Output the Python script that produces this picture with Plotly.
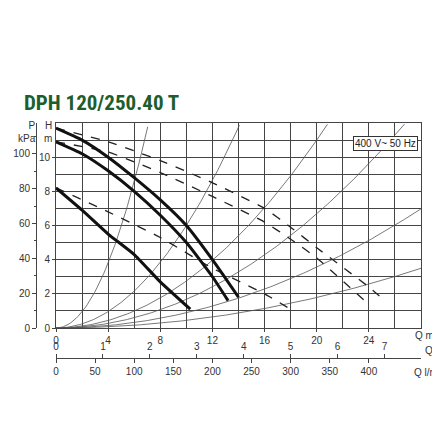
import plotly.graph_objects as go
import numpy as np

# pump curves (Q m3/h, H m)
s1_q=[0,2,4,6,8,10,12,14]; s1_h=[11.7,11.0,10.0,8.8,7.5,6.0,4.0,1.8]
s2_q=[0,2,4,6,8,10,12,13.2]; s2_h=[10.9,10.2,9.2,8.0,6.6,5.0,3.0,1.6]
s3_q=[0,2,4,6,8,10.3]; s3_h=[8.2,6.9,5.5,4.3,2.7,1.1]
d1_q=[0,4,8,12,16,18,20,24,25]; d1_h=[11.7,10.9,9.8,8.5,7.0,5.9,4.7,2.4,1.75]
d2_q=[0,4,8,12,16,18,20,23.6]; d2_h=[10.9,10.3,9.1,7.7,6.2,5.2,4.1,1.65]
d3_q=[0,4,8,12,16,18.2]; d3_h=[8.2,6.8,5.3,3.5,2.0,1.0]
sys_k=[0.238,0.060,0.0275,0.0167,0.0089,0.00446]

fig=go.Figure()
for k in sys_k:
    q=np.linspace(0,28,200); h=k*q**2
    m=h<=12
    fig.add_trace(go.Scatter(x=q[m],y=h[m],mode='lines',line=dict(color='#555',width=0.8)))
for q,h in [(d1_q,d1_h),(d2_q,d2_h),(d3_q,d3_h)]:
    fig.add_trace(go.Scatter(x=q,y=h,mode='lines',line=dict(color='#222',width=1.3,dash='dash',shape='spline',smoothing=0.5)))
for q,h in [(s1_q,s1_h),(s2_q,s2_h),(s3_q,s3_h)]:
    fig.add_trace(go.Scatter(x=q,y=h,mode='lines',line=dict(color='#111',width=3,shape='spline',smoothing=0.5)))
fig.add_trace(go.Scatter(x=[0],y=[0],xaxis='x2',mode='markers',marker=dict(opacity=0)))
fig.add_trace(go.Scatter(x=[0],y=[0],xaxis='x3',mode='markers',marker=dict(opacity=0)))
fig.add_trace(go.Scatter(x=[0],y=[0],yaxis='y2',mode='markers',marker=dict(opacity=0)))

f=dict(family='Liberation Sans',size=10,color='#333')
xd=[28/393,1]
fig.update_layout(width=440,height=440,showlegend=False,plot_bgcolor='white',paper_bgcolor='white',
    margin=dict(l=20,r=27,t=115,b=60,autoexpand=False),font=f,
    xaxis=dict(domain=xd,range=[0,28],showgrid=True,gridcolor='#444',gridwidth=1,automargin=False,
        minor=dict(dtick=2,tick0=0,showgrid=True,gridcolor='#444'),showline=True,linecolor='#444',mirror=True,
        ticks='outside',ticklen=3,tickvals=[0,4,8,12,16,20,24],zeroline=False),
    yaxis=dict(domain=[60/265,1],range=[0,12],tickvals=[0,2,4,6,8,10],showgrid=True,gridcolor='#444',automargin=False,
        minor=dict(dtick=1,tick0=0,showgrid=True,gridcolor='#444'),showline=True,linecolor='#444',mirror=True,
        ticks='outside',ticklen=3,zeroline=False),
    xaxis2=dict(domain=xd,range=[0,28/3.6],anchor='free',position=30/265,side='top',overlaying='x',automargin=False,
        tickvals=[0,1,2,3,4,5,6,7],showgrid=False,showline=True,linecolor='#444',ticks='outside',ticklen=4),
    xaxis3=dict(domain=xd,range=[0,28/0.06],anchor='free',position=30/265,side='bottom',overlaying='x',automargin=False,
        tickvals=list(range(0,401,50)),showgrid=False,showline=False,ticks='outside',ticklen=4),
    yaxis2=dict(range=[0,12*9.81],anchor='free',position=8/393,overlaying='y',side='left',automargin=False,
        tickvals=[0,20,40,60,80,100],showgrid=False,showline=True,linecolor='#444',ticks='outside',ticklen=4,
        minor=dict(dtick=10,ticks='outside',ticklen=2),zeroline=False),
)
ann=[dict(text='<b>DPH 120/250.40 T</b>',x=14,y=95,a='left',font=dict(family='Roboto Condensed, Roboto',size=21,color='#1d5e2c')),
     dict(text='P<br>kPa',x=30,y=124,a='right',font=f),dict(text='H<br>m',x=46,y=124,a='right',font=f),
     dict(text='Q m³/h',x=440,y=327,a='right',font=f),dict(text='Q l/s',x=440,y=342,a='right',font=f),
     dict(text='Q l/min',x=440,y=364,a='right',font=f)]
for a in ann:
    fig.add_annotation(text=a['text'],x=(a['x']-20)/393,y=(380-a['y'])/265,xref='paper',yref='paper',xanchor=a['a'],
        yanchor='middle',showarrow=False,font=a['font'],align='right')
fig.add_annotation(text='400 V~ 50 Hz',x=(410-20)/393,y=(380-128)/265,xref='paper',yref='paper',xanchor='right',
    showarrow=False,bordercolor='#333',borderwidth=1,bgcolor='white',font=dict(family='Liberation Sans',size=10,color='#222'))
fig.write_html('out.html')
